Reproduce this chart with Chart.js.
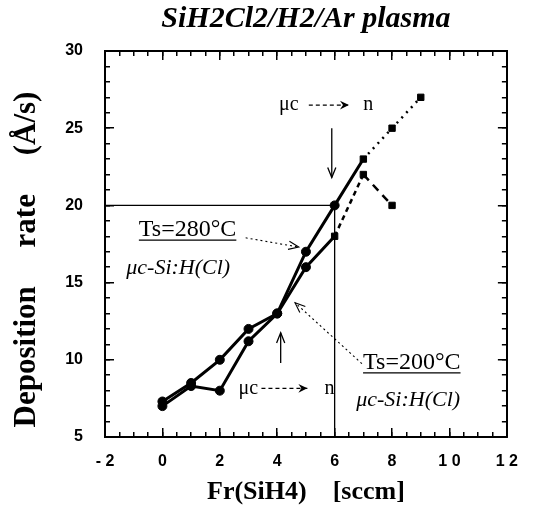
<!DOCTYPE html>
<html>
<head>
<meta charset="utf-8">
<script src="https://cdn.jsdelivr.net/npm/chart.js@4.4.1/dist/chart.umd.min.js"></script>
<style>
  html, body { margin: 0; padding: 0; background: #fff; }
  #wrap { width: 542px; height: 508px; }
</style>
</head>
<body>
<div id="wrap"><canvas id="rateChart" width="542" height="508"></canvas></div>
<script>
// SiH4 flow (sccm) vs deposition rate (Å/s) for the two substrate temperatures
var flow280 = [0, 1, 2, 3, 4, 5, 6, 7, 8, 9];
var rate280 = [7.3, 8.5, 10, 12, 13, 17, 20, 23, 25, 27];
var flow200 = [0, 1, 2, 3, 4, 5, 6, 7, 8];
var rate200 = [7.0, 8.3, 8, 11.2, 13, 16, 18, 22, 20];

// thin guide lines through the transition point
var guideFlow = [-2, 6, 6];
var guideRate = [20, 20, 5];

var xTickValues = [-2, 0, 2, 4, 6, 8, 10, 12];
var xTickLabels = ['- 2', '0', '2', '4', '6', '8', '1 0', '1 2'];
var yTickValues = [5, 10, 15, 20, 25, 30];
var yTickLabels = ['5', '1 0', '1 5', '2 0', '2 5', '3 0'];

var X_MIN = -2, X_MAX = 12, Y_MIN = 5, Y_MAX = 30;

function toPoints(xs, ys) {
    return xs.map(function (x, i) { return { x: x, y: ys[i] }; });
}

// small tick positions between the labelled ones
function steps(from, to, step) {
    var out = [];
    for (var v = from; v <= to + 1e-9; v += step) out.push({ value: v });
    return out;
}

// text notes, placed in data units
var notes = [
    { text: 'Ts=280°C', x: -0.82, y: 18.4, font: '24px "Liberation Serif"', underline: true },
    { text: 'μc-Si:H(Cl)', x: -1.26, y: 15.95, font: 'italic 22px "Liberation Serif"' },
    { text: 'Ts=200°C', x: 6.99, y: 9.8, font: '24px "Liberation Serif"', underline: true },
    { text: 'μc-Si:H(Cl)', x: 6.75, y: 7.4, font: 'italic 22px "Liberation Serif"' },
    { text: 'μc', x: 4.06, y: 26.5, font: '20px "Liberation Serif"' },
    { text: 'n', x: 7.0, y: 26.5, font: '20px "Liberation Serif"' },
    { text: 'μc', x: 2.65, y: 8.15, font: '20px "Liberation Serif"' },
    { text: 'n', x: 5.65, y: 8.15, font: '20px "Liberation Serif"' }
];

// arrows: from -> to, dash pattern, head type
var arrows = [
    { from: [5.9, 25.0], to: [5.9, 21.8], dash: [], head: 'open', width: 1.3 },
    { from: [4.12, 9.8], to: [4.12, 11.75], dash: [], head: 'open', width: 1.3 },
    { from: [5.1, 26.5], to: [6.5, 26.5], dash: [4, 3], head: 'filled', width: 1.3 },
    { from: [3.45, 8.15], to: [5.05, 8.15], dash: [4, 3], head: 'filled', width: 1.3 },
    { from: [2.9, 17.9], to: [4.75, 17.3], dash: [2, 3], head: 'open', width: 1.1 },
    { from: [6.95, 9.75], to: [4.62, 13.7], dash: [2, 3], head: 'open', width: 1.1 }
];

function drawArrow(ctx, x1, y1, x2, y2, dash, head, lw) {
    var ang = Math.atan2(y2 - y1, x2 - x1);
    var len = head === 'filled' ? 10 : 11;
    var spread = head === 'filled' ? 0.45 : 0.38;
    ctx.save();
    ctx.strokeStyle = '#000';
    ctx.fillStyle = '#000';
    ctx.lineWidth = lw;
    ctx.setLineDash(dash);
    ctx.beginPath();
    ctx.moveTo(x1, y1);
    ctx.lineTo(x2, y2);
    ctx.stroke();
    ctx.setLineDash([]);
    var ax = x2 - len * Math.cos(ang - spread), ay = y2 - len * Math.sin(ang - spread);
    var bx = x2 - len * Math.cos(ang + spread), by = y2 - len * Math.sin(ang + spread);
    ctx.beginPath();
    if (head === 'filled') {
        var mx = x2 - len * 0.6 * Math.cos(ang), my = y2 - len * 0.6 * Math.sin(ang);
        ctx.moveTo(x2, y2);
        ctx.lineTo(ax, ay);
        ctx.lineTo(mx, my);
        ctx.lineTo(bx, by);
        ctx.closePath();
        ctx.fill();
    } else {
        ctx.moveTo(ax, ay);
        ctx.lineTo(x2, y2);
        ctx.lineTo(bx, by);
        ctx.stroke();
    }
    ctx.restore();
}

var overlay = {
    id: 'overlay',
    afterDatasetsDraw: function (chart) {
        var ctx = chart.ctx;
        var xs = chart.scales.x, ys = chart.scales.y;
        arrows.forEach(function (ar) {
            drawArrow(ctx,
                xs.getPixelForValue(ar.from[0]), ys.getPixelForValue(ar.from[1]),
                xs.getPixelForValue(ar.to[0]), ys.getPixelForValue(ar.to[1]),
                ar.dash, ar.head, ar.width);
        });
        ctx.save();
        ctx.fillStyle = '#000';
        ctx.strokeStyle = '#000';
        ctx.textBaseline = 'middle';
        ctx.textAlign = 'left';
        notes.forEach(function (n) {
            var px = xs.getPixelForValue(n.x), py = ys.getPixelForValue(n.y);
            ctx.font = n.font;
            ctx.fillText(n.text, px, py);
            if (n.underline) {
                var w = ctx.measureText(n.text).width;
                ctx.lineWidth = 1.2;
                ctx.beginPath();
                ctx.moveTo(px, py + 10);
                ctx.lineTo(px + w, py + 10);
                ctx.stroke();
            }
        });
        ctx.restore();
    }
};

// zero-size axes that only carry inward tick marks (negative tick length) and box edges
function tickAxis(axis, position, min, max, tickList, len, withBorder) {
    return {
        type: 'linear',
        axis: axis,
        position: position,
        min: min,
        max: max,
        weight: -1,
        afterBuildTicks: function (s) { s.ticks = tickList.slice(); },
        afterFit: function (s) { if (axis === 'x') s.height = 0; else s.width = 0; },
        grid: { display: true, drawOnChartArea: false, drawTicks: true, tickLength: -len, color: '#000', lineWidth: 1.5 },
        border: { display: withBorder, color: '#000', width: 2 },
        ticks: { display: false }
    };
}

var xMajor = xTickValues.map(function (v) { return { value: v }; });
var yMajor = yTickValues.map(function (v) { return { value: v }; });
var xMinor = steps(X_MIN, X_MAX, 0.5);
var yMinor = steps(Y_MIN, Y_MAX, 1);

new Chart(document.getElementById('rateChart').getContext('2d'), {
    type: 'line',
    data: {
        datasets: [{
            label: 'guide',
            data: toPoints(guideFlow, guideRate),
            borderColor: '#000',
            borderWidth: 1.3,
            pointRadius: 0,
            tension: 0
        }, {
            label: 'Ts=280°C',
            data: toPoints(flow280, rate280),
            borderColor: '#000',
            backgroundColor: '#000',
            borderWidth: 3,
            pointRadius: 4.5,
            pointStyle: function (c) { return c.raw && c.raw.x >= 7 ? 'rect' : 'circle'; },
            pointBorderWidth: 1,
            tension: 0,
            segment: {
                borderDash: function (c) { return c.p0DataIndex >= 7 ? [2, 5] : []; },
                borderWidth: function (c) { return c.p0DataIndex >= 7 ? 2.5 : 3; }
            }
        }, {
            label: 'Ts=200°C',
            data: toPoints(flow200, rate200),
            borderColor: '#000',
            backgroundColor: '#000',
            borderWidth: 3,
            pointRadius: 4.5,
            pointStyle: function (c) { return c.raw && c.raw.x >= 6 ? 'rect' : 'circle'; },
            pointBorderWidth: 1,
            tension: 0,
            segment: {
                borderDash: function (c) {
                    if (c.p0DataIndex === 6) return [5, 4];
                    if (c.p0DataIndex === 7) return [8, 6];
                    return [];
                },
                borderWidth: function (c) { return c.p0DataIndex >= 6 ? 2.5 : 3; }
            }
        }]
    },
    options: {
        responsive: false,
        animation: false,
        layout: { padding: { left: 0, right: 21, top: 0, bottom: 0 } },
        plugins: {
            legend: { display: false },
            tooltip: { enabled: false },
            title: {
                display: true,
                fullSize: false,
                text: 'SiH2Cl2/H2/Ar plasma',
                color: '#000',
                font: { family: 'Liberation Serif', size: 30, style: 'italic', weight: 'bold' },
                padding: { top: 1, bottom: 14 }
            }
        },
        scales: {
            x: {
                type: 'linear',
                position: 'bottom',
                min: X_MIN,
                max: X_MAX,
                afterFit: function (s) { s.height = 71; },
                afterBuildTicks: function (s) { s.ticks = xMajor.slice(); },
                grid: { display: true, drawOnChartArea: false, drawTicks: true, tickLength: -9, color: '#000', lineWidth: 1.5 },
                border: { display: true, color: '#000', width: 2 },
                ticks: {
                    autoSkip: false,
                    maxRotation: 0,
                    padding: 24,
                    color: '#000',
                    font: { family: 'Liberation Sans', size: 16, weight: 'bold' },
                    callback: function (v) { return xTickLabels[xTickValues.indexOf(v)]; }
                },
                title: {
                    display: true,
                    text: 'Fr(SiH4)    [sccm]',
                    color: '#000',
                    font: { family: 'Liberation Serif', size: 26, weight: 'bold' },
                    padding: { top: 0, bottom: 0 }
                }
            },
            y: {
                type: 'linear',
                position: 'left',
                min: Y_MIN,
                max: Y_MAX,
                afterFit: function (s) { s.width = 105; },
                afterBuildTicks: function (s) { s.ticks = yMajor.slice(); },
                grid: { display: true, drawOnChartArea: false, drawTicks: true, tickLength: -9, color: '#000', lineWidth: 1.5 },
                border: { display: true, color: '#000', width: 2 },
                ticks: {
                    autoSkip: false,
                    padding: 31,
                    color: '#000',
                    font: { family: 'Liberation Sans', size: 16, weight: 'bold' },
                    callback: function (v) { return yTickLabels[yTickValues.indexOf(v)]; }
                },
                title: {
                    display: true,
                    text: 'Deposition     rate     (Å/s)    ',
                    color: '#000',
                    font: { family: 'Liberation Serif', size: 31, weight: 'bold' },
                    padding: { top: 8, bottom: 0 }
                }
            },
            xMinorBottom: tickAxis('x', 'bottom', X_MIN, X_MAX, xMinor, 5, false),
            xMajorTop: tickAxis('x', 'top', X_MIN, X_MAX, xMajor, 9, true),
            xMinorTop: tickAxis('x', 'top', X_MIN, X_MAX, xMinor, 5, false),
            yMinorLeft: tickAxis('y', 'left', Y_MIN, Y_MAX, yMinor, 5, false),
            yMajorRight: tickAxis('y', 'right', Y_MIN, Y_MAX, yMajor, 9, true),
            yMinorRight: tickAxis('y', 'right', Y_MIN, Y_MAX, yMinor, 5, false)
        }
    },
    plugins: [overlay]
});
</script>
</body>
</html>
